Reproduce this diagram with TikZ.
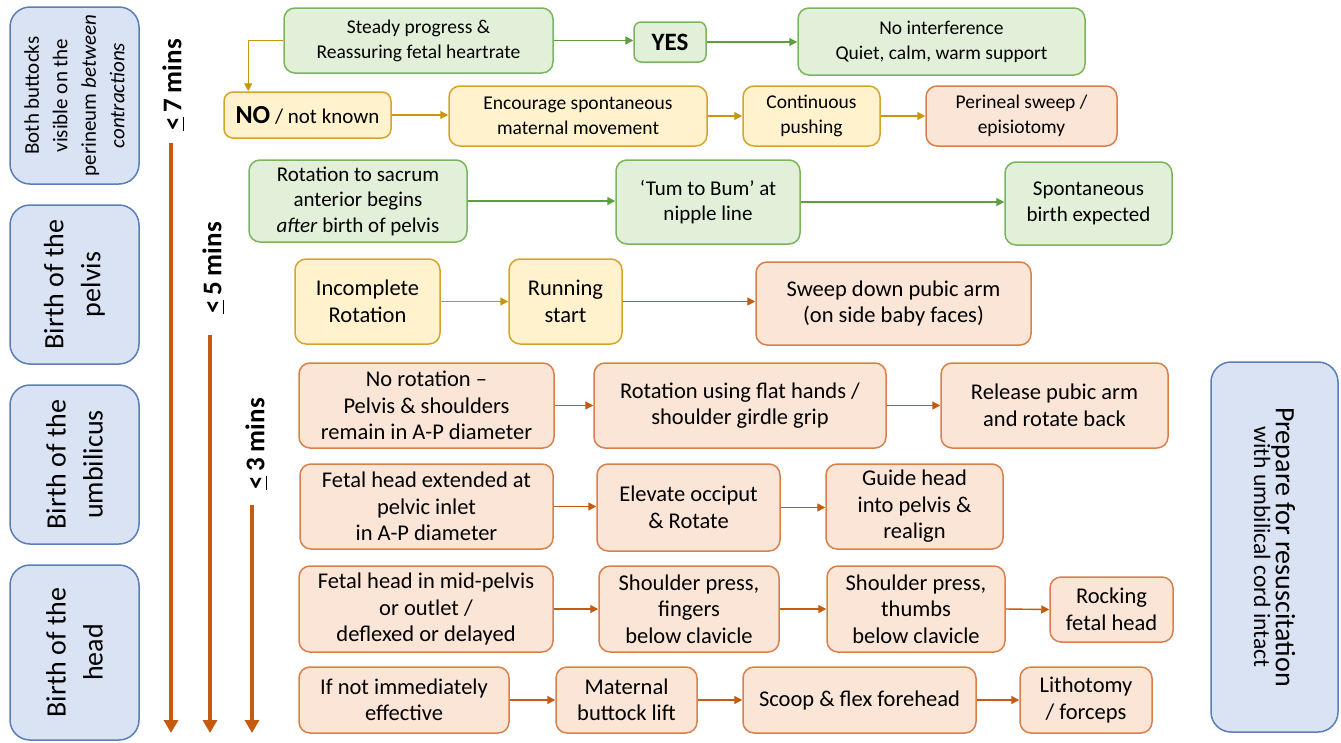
\documentclass[tikz,border=0pt]{standalone}
\usepackage{fontspec}
\setmainfont{Carlito}
\usetikzlibrary{arrows.meta}
\definecolor{bfill}{HTML}{DAE3F3}
\definecolor{bline}{HTML}{5B7DB9}
\definecolor{gfill}{HTML}{E2F0D9}
\definecolor{gline}{HTML}{7AB55C}
\definecolor{yfill}{HTML}{FFF2CC}
\definecolor{yline}{HTML}{D4A52A}
\definecolor{ofill}{HTML}{FBE5D6}
\definecolor{oline}{HTML}{D9804A}
\definecolor{oarrow}{HTML}{C55A11}
\definecolor{garrow}{HTML}{5E9E3E}
\definecolor{yarrow}{HTML}{C9970F}
\tikzset{
  box/.style={draw, line width=1.5pt, rounded corners=11pt, align=center, inner sep=2pt,
    font=\fontsize{22.5}{26.5}\selectfont},
  fsA/.style={font=\fontsize{19.5}{25}\selectfont},
  fsB/.style={font=\fontsize{21}{25.5}\selectfont},
  gbox/.style={box, draw=gline, fill=gfill},
  ybox/.style={box, draw=yline, fill=yfill},
  obox/.style={box, draw=oline, fill=ofill},
  bbox/.style={draw=bline, fill=bfill, line width=1.5pt, rounded corners=20pt, align=center, inner sep=2pt},
  conG/.style={draw=garrow, line width=1.4pt, -{Triangle[length=8pt,width=8pt]}},
  conY/.style={draw=yarrow, line width=1.4pt, -{Triangle[length=8pt,width=8pt]}},
  conO/.style={draw=oarrow, line width=1.4pt, -{Triangle[length=8pt,width=8pt]}},
  timearrow/.style={draw=oarrow, line width=4pt, -{Triangle[length=13pt,width=14pt]}},
  timelabel/.style={rotate=90, inner sep=0pt, font=\fontsize{27}{30}\selectfont\bfseries},
  wh/.style 2 args={minimum width=#1pt, minimum height=#2pt}
}
\begin{document}
\begin{tikzpicture}[x=1pt,y=-1pt]
\useasboundingbox (0,0) rectangle (1341,742);
% left stage boxes (rotated)
\node[bbox, rotate=90, wh={177}{129}, font=\fontsize{21}{28.5}\selectfont] (b1) at (74.5,95.5)
  {Both buttocks\\visible on the\\perineum \textit{between}\\\textit{contractions}};
\node[bbox, rotate=90, wh={159}{129}, font=\fontsize{28}{37}\selectfont] (b2) at (74.5,284.5) {Birth of the\\pelvis};
\node[bbox, rotate=90, wh={159}{129}, font=\fontsize{28}{37}\selectfont] (b3) at (74.5,464.5) {Birth of the\\umbilicus};
\node[bbox, rotate=90, wh={175}{129}, font=\fontsize{28}{37}\selectfont] (b4) at (74.5,652.5) {Birth of the\\head};
% right box
\node[bbox, rotate=-90, wh={370}{127}] (rb) at (1274.5,547)
  {{\fontsize{28}{31}\selectfont Prepare for resuscitation}\\{\fontsize{23.5}{26}\selectfont with umbilical cord intact}};
% time labels and arrows
\node[timelabel] (t1) at (173,85) {\underline{<}\,7 mins};
\node[timelabel] (t2) at (213,268) {\underline{<}\,5 mins};
\node[timelabel] (t3) at (256,444) {\underline{<}\,3 mins};
\coordinate (s1) at (171,143); \coordinate (e1) at (171,733);
\coordinate (s2) at (210,335); \coordinate (e2) at (210,733);
\coordinate (s3) at (252,505); \coordinate (e3) at (252,733);
\draw[timearrow] (s1) -- (e1);
\draw[timearrow] (s2) -- (e2);
\draw[timearrow] (s3) -- (e3);
% row 1
\node[gbox, fsA, wh={269}{65}] (g1) at (418.5,40.5) {Steady progress \&\\Reassuring fetal heartrate};
\node[gbox, wh={72}{40}, rounded corners=7pt, font=\fontsize{25}{28}\selectfont\bfseries] (yes) at (670,42) {YES};
\node[gbox, fsA, wh={287}{67}] (g2) at (941.5,41.5) {No interference\\Quiet, calm, warm support};
% row 2
\node[ybox, wh={167}{46}, rounded corners=9pt, font=\fontsize{21}{24}\selectfont] (no) at (307.5,115) {{\fontsize{26}{28}\selectfont\bfseries NO} / not known};
\node[ybox, fsA, wh={258}{60}] (y2) at (578,116) {Encourage spontaneous\\maternal movement};
\node[ybox, fsA, wh={137}{60}] (y3) at (811.5,116) {Continuous\\pushing};
\node[obox, fsA, wh={191}{60}] (r1) at (1021.5,116) {Perineal sweep /\\episiotomy};
% row 3
\node[gbox, fsB, wh={218}{82}] (g3) at (358,201) {Rotation to sacrum\\anterior begins\\\textit{after} birth of pelvis};
\node[gbox, fsB, wh={184}{84}] (g4) at (708,202) {‘Tum to Bum’ at\\nipple line};
\node[gbox, fsB, wh={167}{83}] (g5) at (1088.5,203.5) {Spontaneous\\birth expected};
% row 4
\node[ybox, wh={145}{85}] (y4) at (367.5,301.5) {Incomplete\\Rotation};
\node[ybox, wh={113}{85}] (y5) at (565.5,301.5) {Running\\start};
\node[obox, wh={275}{83}] (r2) at (893.5,303.5) {Sweep down pubic arm\\(on side baby faces)};
% row 5
\node[obox, wh={255}{85}] (r3) at (426.5,405.5) {No rotation –\\Pelvis \& shoulders\\remain in A-P diameter};
\node[obox, wh={292}{85}] (r4) at (740,405.5) {Rotation using flat hands /\\shoulder girdle grip};
\node[obox, wh={227}{85}] (r5) at (1054.5,405.5) {Release pubic arm\\and rotate back};
% row 6
\node[obox, wh={253}{85}] (r6) at (426.5,506.5) {Fetal head extended at\\pelvic inlet\\in A-P diameter};
\node[obox, wh={183}{87}] (r7) at (688.5,507.5) {Elevate occiput\\\& Rotate};
\node[obox, wh={177}{85}] (r8) at (914.5,506.5) {Guide head\\into pelvis \&\\realign};
% row 7
\node[obox, wh={254}{86}] (r9) at (426,609) {Fetal head in mid-pelvis\\or outlet /\\deflexed or delayed};
\node[obox, wh={180}{86}] (r10) at (689,609) {Shoulder press,\\fingers\\below clavicle};
\node[obox, wh={178}{86}] (r11) at (916,609) {Shoulder press,\\thumbs\\below clavicle};
\node[obox, wh={123}{65}] (r12) at (1111.5,609.5) {Rocking\\fetal head};
% row 8
\node[obox, wh={210}{66}] (r13) at (404,700) {If not immediately\\effective};
\node[obox, wh={141}{66}] (r14) at (626.5,700) {Maternal\\buttock lift};
\node[obox, wh={233}{66}] (r15) at (859.5,700) {Scoop \& flex forehead};
\node[obox, wh={132}{66}] (r16) at (1086,700) {Lithotomy\\/ forceps};
% connectors
\draw[conG] (g1.east) -- (yes.west |- g1.east);
\draw[conG] (yes.east) -- (g2.west |- yes.east);
\draw[conY] (g1.west) -| ([xshift=25pt]no.north west);
\draw[conY] (no.east) -- (y2.west |- no.east);
\draw[conY] (y2.east) -- (y3.west);
\draw[conY] (y3.east) -- (r1.west);
\draw[conG] (g3.east) -- (g4.west |- g3.east);
\draw[conG] (g4.east) -- (g5.west |- g4.east);
\draw[conY] (y4.east) -- (y5.west);
\draw[conO] (y5.east) -- (r2.west |- y5.east);
\draw[conO] (r3.east) -- (r4.west);
\draw[conO] (r4.east) -- (r5.west);
\draw[conO] (r6.east) -- (r7.west |- r6.east);
\draw[conO] (r7.east) -- (r8.west |- r7.east);
\draw[conO] (r9.east) -- (r10.west);
\draw[conO] (r10.east) -- (r11.west);
\draw[conO] (r11.east) -- (r12.west);
\draw[conO] (r13.east) -- (r14.west);
\draw[conO] (r14.east) -- (r15.west);
\draw[conO] (r15.east) -- (r16.west);
\end{tikzpicture}
\end{document}
